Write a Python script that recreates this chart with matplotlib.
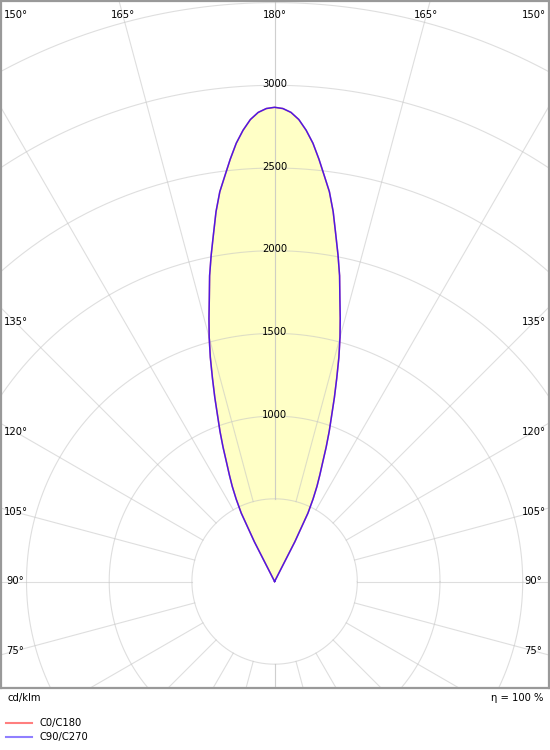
import numpy as np
import matplotlib
matplotlib.use("Agg")
import matplotlib.pyplot as plt

# luminous intensity distribution (cd/klm) against gamma angle, beam points to 180 deg
gamma = [152, 153, 154, 155, 156, 157, 158, 159, 160, 161, 162, 163, 164, 165,
         166, 167, 168, 169, 170, 171, 172, 173, 174, 175, 176, 177, 178, 179, 180]
c0_c180 = [0, 270, 460, 550, 630, 700, 775, 870, 965, 1058, 1170, 1285, 1410, 1528,
           1640, 1755, 1890, 2010, 2130, 2264, 2380, 2470, 2567, 2660, 2735, 2797, 2838, 2860, 2867]
c90_c270 = [0, 270, 460, 550, 630, 700, 775, 870, 965, 1058, 1170, 1285, 1410, 1528,
            1640, 1755, 1890, 2010, 2130, 2264, 2380, 2470, 2567, 2660, 2735, 2797, 2838, 2860, 2867]
series_names = ["C0/C180", "C90/C270"]
ring_values = [500, 1000, 1500, 2000, 2500, 3000, 3500, 4000]
ring_labels = [1000, 1500, 2000, 2500, 3000]
angle_ticks = [75, 90, 105, 120, 135, 150, 165, 180]
unit_text = "cd/klm"
eta_text = "η = 100 %"

W, H = 550, 750
CX, CY = 274.6, 581.5      # pole position in pixels
PX = 6.046                 # cd per pixel
L, T, R, B = 1, 1, 549, 688  # frame in pixels

GRID = "#c4c4c4"; FILL = "#ffffc6"; FRAME = "#999999"
plt.rcParams["font.family"] = ["DejaVu Sans"]
FS = 7.2

fig = plt.figure(figsize=(W / 100, H / 100), dpi=100)
fig.patch.set_facecolor("white")
ax = fig.add_axes([L / W, 1 - B / H, (R - L) / W, (B - T) / H])
ax.set_xlim((L - CX) * PX, (R - CX) * PX)
ax.set_ylim((CY - B) * PX, (CY - T) * PX)
ax.set_xticks([]); ax.set_yticks([])
for s in ax.spines.values():
    s.set_color(FRAME); s.set_linewidth(1.6)


def to_xy(vals, side):
    a = np.radians(180 - np.array(gamma, dtype=float))
    r = np.array(vals, dtype=float)
    return side * r * np.sin(a), r * np.cos(a)


def closed(vals):
    xl, yl = to_xy(vals, -1)
    xr, yr = to_xy(vals, 1)
    return np.concatenate([xl, xr[::-1]]), np.concatenate([yl, yr[::-1]])


# fill under the curve
fx, fy = closed(c90_c270)
ax.fill(fx, fy, color=FILL, lw=0, zorder=1)

# rings and radial lines
t = np.linspace(0, 2 * np.pi, 721)
for rv in ring_values:
    ax.plot(rv * np.cos(t), rv * np.sin(t), color=GRID, lw=0.8, alpha=0.55, zorder=2)
for g in range(0, 181, 15):
    a = np.radians(180 - g)
    rr = np.array([ring_values[0], 6000])
    for side in (-1, 1):
        ax.plot(side * rr * np.sin(a), rr * np.cos(a), color=GRID, lw=0.8, alpha=0.55, zorder=2)

# curves
cx0, cy0 = closed(c0_c180)
cx9, cy9 = closed(c90_c270)
h0, = ax.plot(cx0, cy0, color="#ff0000", alpha=0.5, lw=1.1, zorder=3, label=series_names[0])
h9, = ax.plot(cx9, cy9, color="#2200ff", alpha=0.8, lw=1.1, zorder=4, label=series_names[1])

# ring value labels
for rv in ring_labels:
    ax.text(0, rv + 1.5 * PX, str(rv), ha="center", va="center", fontsize=FS, zorder=5)

# angle labels around the frame
for g in angle_ticks:
    alpha = np.radians(180 - g)
    sides = (1,) if g == 180 else (-1, 1)
    for side in sides:
        if 180 - g <= 30:
            yp = 14.7
            xp = CX + side * (CY - yp) * np.tan(alpha)
            xp = min(max(xp, 16), 534)
        else:
            xp = CX + side * 259
            yp = CY - 259 / np.tan(alpha)
        ax.text((xp - CX) * PX, (CY - yp) * PX, f"{g}°", ha="center", va="center",
                fontsize=FS, clip_on=False, zorder=5)

fig.text(7 / W, 1 - 697.7 / H, unit_text, ha="left", va="center", fontsize=FS)
fig.text(543 / W, 1 - 697.7 / H, eta_text, ha="right", va="center", fontsize=FS)

leg = ax.legend(handles=[h0, h9], loc="upper left", bbox_to_anchor=(6 / W, 1 - 718 / H),
                bbox_transform=fig.transFigure, frameon=False, fontsize=FS,
                handlelength=2.6, handletextpad=0.8, labelspacing=0.42,
                borderpad=0, borderaxespad=0)
for lh in leg.legend_handles:
    lh.set_alpha(0.5); lh.set_linewidth(1.5)

fig.savefig("out.png", dpi=100, facecolor="white")
